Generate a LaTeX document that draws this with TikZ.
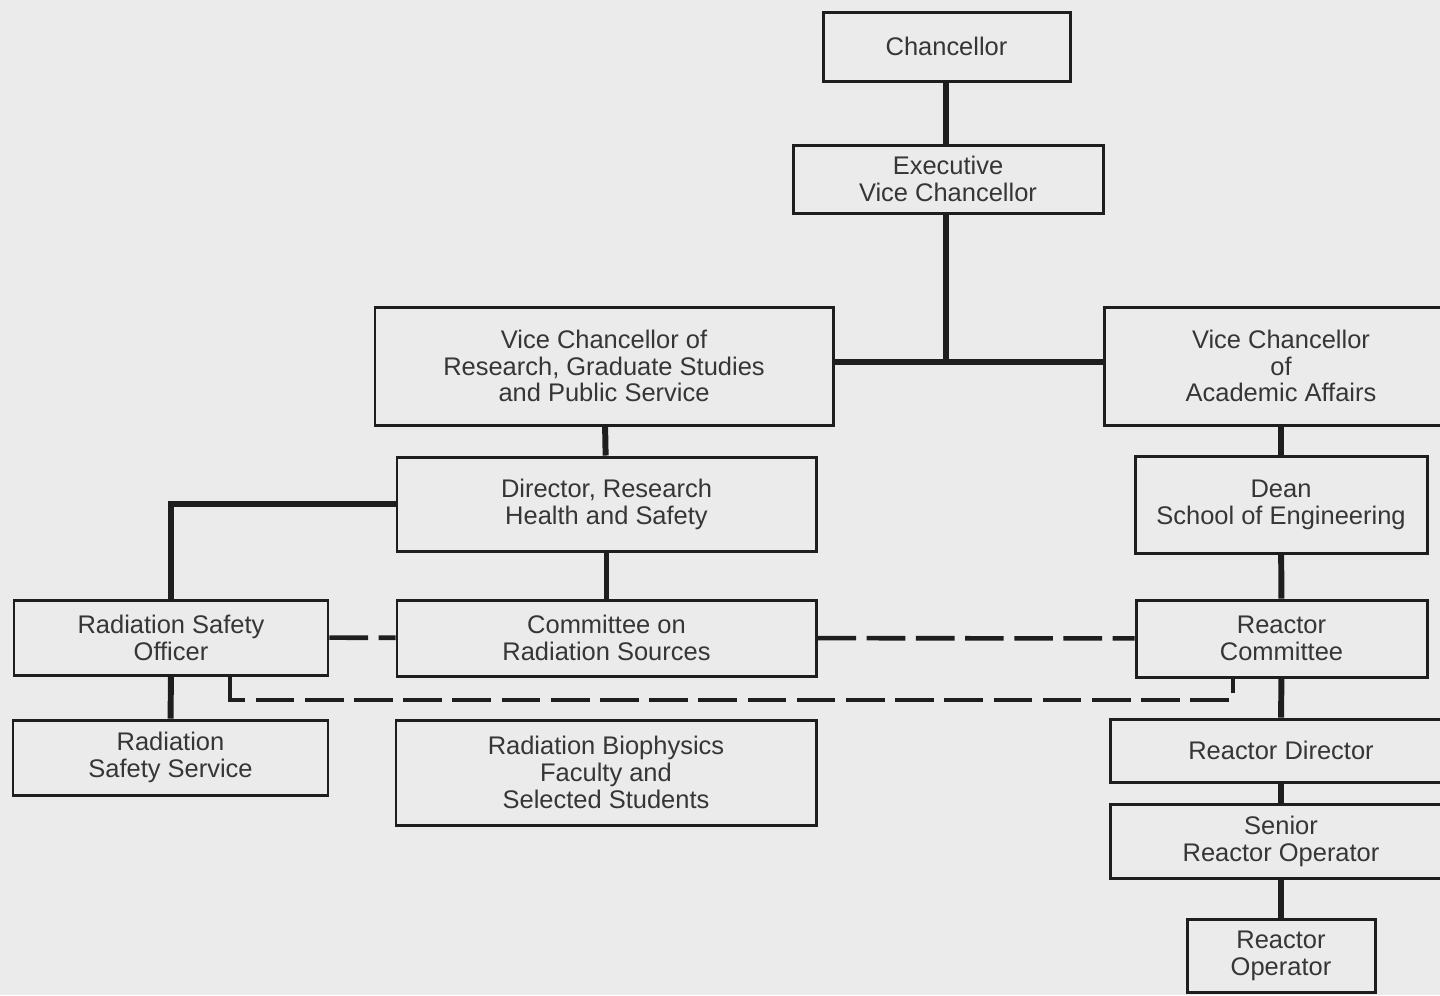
\documentclass[tikz,border=0pt]{standalone}
\usepackage{fontspec}
\setmainfont{Liberation Sans}
\usepackage{xcolor}
\definecolor{Paper}{HTML}{EBEBEB}
\definecolor{Ink}{HTML}{1E1E1E}
\definecolor{Print}{HTML}{363636}
\usetikzlibrary{positioning,calc}

\begin{document}
\begin{tikzpicture}[
  x=0.02cm,y=-0.02cm,
  font=\fontsize{14.5}{15.3}\selectfont,
  box/.style={draw=Ink,fill=Paper,line width=1.7pt,inner sep=0pt,
    align=center,text=Print},
  dims/.style 2 args={minimum width=#1*0.02cm,minimum height=#2*0.02cm},
  link/.style={draw=Ink,line width=3.4pt},
  dashedlink/.style={draw=Ink,line width=2.6pt,dash pattern=on 22pt off 6pt}
]
\clip (0,0) rectangle (1440,995);
\fill[Paper] (0,0) rectangle (1440,995);

% Top of the chart: university officers, one column in the middle
\node[box,dims={247}{69}] (chancellor) at (946.5,46.5) {Chancellor};
\node[box,dims={310}{68}] (execvc) at (948,179) {Executive\\Vice Chancellor};
\node[box,dims={458}{118}] (vcresearch) at (604,366) {Vice Chancellor of\\Research, Graduate Studies\\and Public Service};
\node[box,dims={354}{118}] (vcacademic) at (1281,366) {Vice Chancellor\\of\\Academic Affairs};

% Left branch: research health and safety
\node[box,dims={419}{94}] (director) at (606.5,504) {Director, Research\\Health and Safety};
\node[box,dims={419}{76}] (radcommittee) at (606.5,638) {Committee on\\Radiation Sources};
\node[box,dims={420}{105}] (biophysics) at (606,772.5) {Radiation Biophysics\\Faculty and\\Selected Students};
\node[box,dims={314}{75}] (safetyofficer) at (171,637.5) {Radiation Safety\\Officer};
\node[box,dims={315}{75}] (safetyservice) at (170.5,757.5) {Radiation\\Safety Service};

% Right branch: engineering and the reactor staff
\node[box,dims={292}{97}] (dean) at (1281,504.5) {Dean\\School of Engineering};
\node[box,dims={291}{77}] (reactorcommittee) at (1281.5,638.5) {Reactor\\Committee};
\node[box,dims={342}{63}] (reactordirector) at (1281,750.5) {Reactor Director};
\node[box,dims={342}{74}] (senioroperator) at (1281,841) {Senior\\Reactor Operator};
\node[box,dims={188}{73}] (operator) at (1281,955.5) {Reactor\\Operator};

\coordinate (junction) at (946,362);
\coordinate (loopL) at (230,700);
\coordinate (loopR) at (1233,700);

\draw[link] (chancellor.south -| junction) -- (execvc.north -| junction);
\draw[link] (execvc.south -| junction) -- (junction);
\draw[link] (vcresearch.east |- junction) -- (vcacademic.west |- junction);
\draw[link] (vcresearch) -- (director);
\draw[link] (director) -- (radcommittee);
\draw[link] (director.west) -| (safetyofficer.north);
\draw[link] (safetyofficer) -- (safetyservice);
\draw[link] (vcacademic) -- (dean);
\draw[link] (dean) -- (reactorcommittee);
\draw[link] (reactorcommittee) -- (reactordirector);
\draw[link] (reactordirector) -- (senioroperator);
\draw[link] (senioroperator) -- (operator);

\draw[dashedlink] (safetyofficer) -- (radcommittee);
\draw[dashedlink] (radcommittee) -- (reactorcommittee);
\draw[dashedlink] (safetyofficer.south -| loopL) -- (loopL) -- (loopR) -- (loopR |- reactorcommittee.south);
\end{tikzpicture}
\end{document}
